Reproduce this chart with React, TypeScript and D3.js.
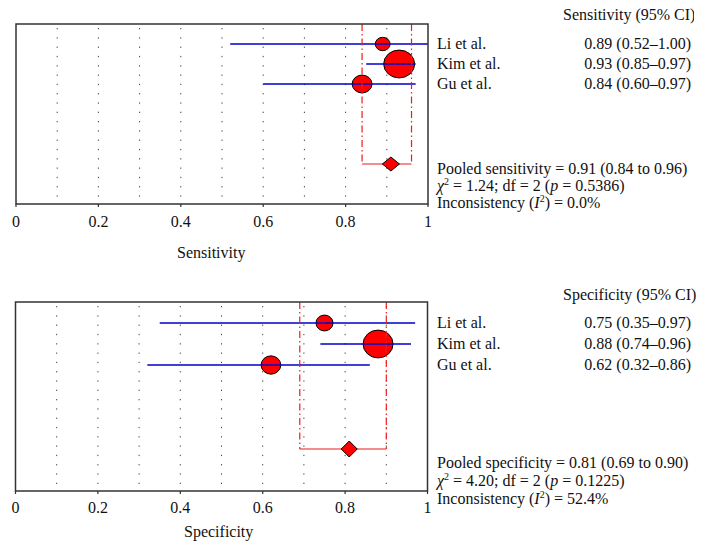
import React from "react";
import * as d3 from "d3";

const studies = ["Li et al.", "Kim et al.", "Gu et al."];

const sensEst = [0.89, 0.93, 0.84];
const sensLo = [0.52, 0.85, 0.6];
const sensHi = [1.0, 0.97, 0.97];
const sensWeight = [14, 61, 25];
const sensPooled = [0.91, 0.84, 0.96];
const sensChi = ["1.24", "2", "0.5386"];
const sensI2 = "0.0%";

const specEst = [0.75, 0.88, 0.62];
const specLo = [0.35, 0.74, 0.32];
const specHi = [0.97, 0.96, 0.86];
const specWeight = [18.5, 57, 24.5];
const specPooled = [0.81, 0.69, 0.9];
const specChi = ["4.20", "2", "0.1225"];
const specI2 = "52.4%";

const xTicks = [0, 0.2, 0.4, 0.6, 0.8, 1];
const gridTicks = [0.1, 0.2, 0.3, 0.4, 0.5, 0.6, 0.7, 0.8, 0.9];

const FONT = "'Liberation Serif', 'Times New Roman', serif";
const f2 = d3.format(".2f");

type PanelProps = {
  name: string;
  est: number[];
  lo: number[];
  hi: number[];
  weight: number[];
  pooled: number[];
  chi: string[];
  i2: string;
  left: number;
  right: number;
  top: number;
  bottom: number;
  aspect: number;
  diamond: [number, number];
  headerY: number;
  tickY: number;
  titleX: number;
  titleY: number;
  statY: number[];
  clipId: string;
  clipRight: number;
};

function Panel(p: PanelProps) {
  const x = d3.scaleLinear().domain([0, 1]).range([p.left, p.right]);
  const y = d3.scaleLinear().domain([-1, 8]).range([p.top, p.bottom]);
  const r = d3.scaleSqrt().domain([0, 100]).range([0, 19.85]);
  const pooledRow = 6;
  const yp = y(pooledRow);
  const labelX = 437;
  const valueX = 691;
  const [pe, pl, ph] = p.pooled;
  const [dw, dh] = p.diamond;
  const lower = p.name.toLowerCase();
  return (
    <g>
      <defs>
        <clipPath id={p.clipId}>
          <rect x={0} y={p.headerY - 20} width={p.clipRight} height={30} />
        </clipPath>
      </defs>
      {gridTicks.map((t) => (
        <line
          key={"g" + t}
          x1={x(t)}
          x2={x(t)}
          y1={p.top + 4}
          y2={p.bottom}
          stroke="#444"
          strokeWidth={1}
          strokeDasharray="1.3,8"
        />
      ))}
      {p.est.map((e, i) => (
        <ellipse
          key={"c" + i}
          cx={x(e)}
          cy={y(i)}
          rx={r(p.weight[i])}
          ry={r(p.weight[i]) * p.aspect}
          fill="#ff0000"
          stroke="#000"
          strokeWidth={1}
        />
      ))}
      {p.est.map((e, i) => (
        <line
          key={"l" + i}
          x1={x(p.lo[i])}
          x2={x(p.hi[i])}
          y1={y(i)}
          y2={y(i)}
          stroke="#0000cc"
          strokeWidth={1.3}
        />
      ))}
      {[pl, ph].map((v, i) => (
        <line
          key={"v" + i}
          x1={x(v)}
          x2={x(v)}
          y1={p.top}
          y2={yp}
          stroke="#ee1c1c"
          strokeWidth={1.2}
          strokeDasharray="7,3,1.5,3"
        />
      ))}
      <line x1={x(pl)} x2={x(ph)} y1={yp} y2={yp} stroke="#ee1c1c" strokeWidth={1.2} />
      <path
        d={`M${x(pe) - dw},${yp} L${x(pe)},${yp - dh} L${x(pe) + dw},${yp} L${x(pe)},${yp + dh} Z`}
        fill="#ff0000"
        stroke="#000"
        strokeWidth={1}
      />
      <rect
        x={p.left}
        y={p.top}
        width={p.right - p.left}
        height={p.bottom - p.top}
        fill="none"
        stroke="#333"
        strokeWidth={1.5}
      />
      {xTicks.map((t) => (
        <g key={"t" + t}>
          <line x1={x(t)} x2={x(t)} y1={p.bottom} y2={p.bottom + 3} stroke="#333" strokeWidth={1.2} />
          <text x={x(t)} y={p.tickY} textAnchor="middle" fontFamily={FONT} fontSize={16} fill="#111">
            {t === 0 || t === 1 ? String(t) : d3.format(".1f")(t)}
          </text>
        </g>
      ))}
      <text x={p.titleX} y={p.titleY} fontFamily={FONT} fontSize={16} fill="#111">
        {p.name}
      </text>
      <g clipPath={`url(#${p.clipId})`}>
        <text x={563} y={p.headerY} fontFamily={FONT} fontSize={16} fill="#111">
          {p.name} (95% CI)
        </text>
      </g>
      {studies.map((s, i) => (
        <g key={"s" + i}>
          <text x={labelX} y={y(i) + 5} fontFamily={FONT} fontSize={16} fill="#111">
            {s}
          </text>
          <text x={valueX} y={y(i) + 5} textAnchor="end" fontFamily={FONT} fontSize={16} fill="#111">
            {`${f2(p.est[i])} (${f2(p.lo[i])}–${f2(p.hi[i])})`}
          </text>
        </g>
      ))}
      <text x={labelX} y={p.statY[0]} fontFamily={FONT} fontSize={16} fill="#111">
        {`Pooled ${lower} = ${f2(pe)} (${f2(pl)} to ${f2(ph)})`}
      </text>
      <text x={labelX} y={p.statY[1]} fontFamily={FONT} fontSize={16} fill="#111">
        <tspan fontStyle="italic">χ</tspan>
        <tspan fontSize={10} dy={-6}>2</tspan>
        <tspan dy={6}>{` = ${p.chi[0]}; df = ${p.chi[1]} (`}</tspan>
        <tspan fontStyle="italic">p</tspan>
        <tspan>{` = ${p.chi[2]})`}</tspan>
      </text>
      <text x={labelX} y={p.statY[2]} fontFamily={FONT} fontSize={16} fill="#111">
        <tspan>Inconsistency (</tspan>
        <tspan fontStyle="italic">I</tspan>
        <tspan fontSize={10} dy={-6}>2</tspan>
        <tspan dy={6}>{`) = ${p.i2}`}</tspan>
      </text>
    </g>
  );
}

export default function App() {
  return (
    <svg
      width={705}
      height={550}
      style={{ position: "absolute", left: 0, top: 0, background: "#fff" }}
    >
      <rect x={0} y={0} width={705} height={550} fill="#fff" />
      <Panel
        name="Sensitivity"
        est={sensEst}
        lo={sensLo}
        hi={sensHi}
        weight={sensWeight}
        pooled={sensPooled}
        chi={sensChi}
        i2={sensI2}
        left={16}
        right={428}
        top={24}
        bottom={204}
        aspect={0.9}
        diamond={[8.5, 7]}
        headerY={20}
        tickY={226.5}
        titleX={177}
        titleY={258}
        statY={[174, 191, 208]}
        clipId="clipTop"
        clipRight={694}
      />
      <Panel
        name="Specificity"
        est={specEst}
        lo={specLo}
        hi={specHi}
        weight={specWeight}
        pooled={specPooled}
        chi={specChi}
        i2={specI2}
        left={15.5}
        right={427.5}
        top={302}
        bottom={491}
        aspect={0.93}
        diamond={[8, 8]}
        headerY={300}
        tickY={512.5}
        titleX={184}
        titleY={537}
        statY={[468, 486, 504]}
        clipId="clipBottom"
        clipRight={705}
      />
    </svg>
  );
}
